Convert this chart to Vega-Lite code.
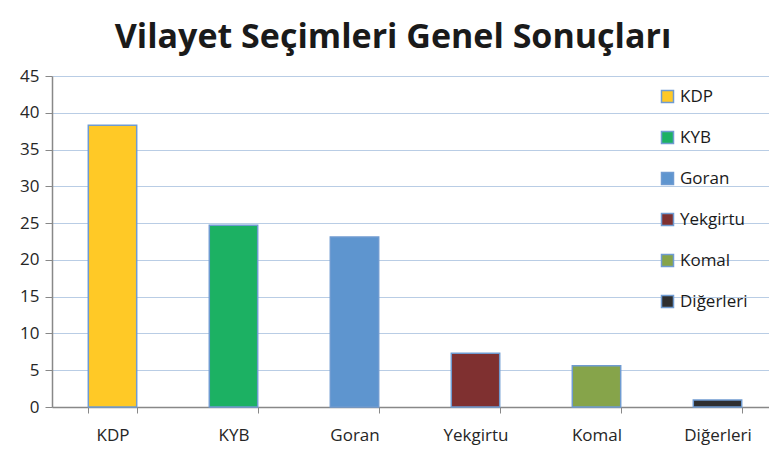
{
  "$schema": "https://vega.github.io/schema/vega-lite/v6.json",
  "autosize": {"type": "none"},
  "width": 726,
  "height": 331,
  "padding": {"left": 52, "top": 76, "right": 0, "bottom": 45},
  "background": "white",
  "title": {
    "text": "Vilayet Seçimleri Genel Sonuçları",
    "font": "Open Sans",
    "fontSize": 34,
    "fontWeight": "bold",
    "color": "#1a1a1a",
    "anchor": "middle",
    "dx": -22,
    "offset": 12
  },
  "data": {
    "values": [
      {"party": "KDP", "value": 38.3},
      {"party": "KYB", "value": 24.7},
      {"party": "Goran", "value": 23.1},
      {"party": "Yekgirtu", "value": 7.3},
      {"party": "Komal", "value": 5.6},
      {"party": "Diğerleri", "value": 0.95}
    ]
  },
  "mark": {"type": "bar", "stroke": "#6F9BD1", "strokeWidth": 1.5},
  "encoding": {
    "x": {
      "field": "party",
      "type": "nominal",
      "sort": null,
      "scale": {"paddingInner": 0.6, "paddingOuter": 0.3},
      "axis": {
        "title": null,
        "labelAngle": 0,
        "labelFont": "Open Sans",
        "labelFontSize": 17,
        "labelColor": "#262626",
        "labelPadding": 14,
        "domainColor": "#888888",
        "domainWidth": 1.5,
        "tickColor": "#888888",
        "tickSize": 6,
        "tickBand": "extent",
        "grid": false
      }
    },
    "y": {
      "field": "value",
      "type": "quantitative",
      "scale": {"domain": [0, 45], "nice": false},
      "axis": {
        "title": null,
        "values": [0, 5, 10, 15, 20, 25, 30, 35, 40, 45],
        "labelFont": "Open Sans",
        "labelFontSize": 17,
        "labelColor": "#262626",
        "labelPadding": 6,
        "domainColor": "#888888",
        "domainWidth": 1.5,
        "tickColor": "#888888",
        "tickSize": 7,
        "gridColor": "#B9CDE5",
        "gridWidth": 1.2
      }
    },
    "fill": {
      "field": "party",
      "type": "nominal",
      "sort": null,
      "scale": {
        "domain": ["KDP", "KYB", "Goran", "Yekgirtu", "Komal", "Diğerleri"],
        "range": ["#FFC926", "#1CB163", "#5E95CF", "#7F3030", "#86A44A", "#2F2F2F"]
      },
      "legend": {
        "title": null,
        "orient": "none",
        "legendX": 607,
        "legendY": 12,
        "symbolType": "square",
        "symbolSize": 144,
        "symbolStrokeColor": "#6F9BD1",
        "symbolStrokeWidth": 1.5,
        "labelFont": "Open Sans",
        "labelFontSize": 17,
        "labelColor": "#1a1a1a",
        "labelOffset": 4,
        "rowPadding": 22
      }
    }
  },
  "config": {"view": {"stroke": null}}
}
